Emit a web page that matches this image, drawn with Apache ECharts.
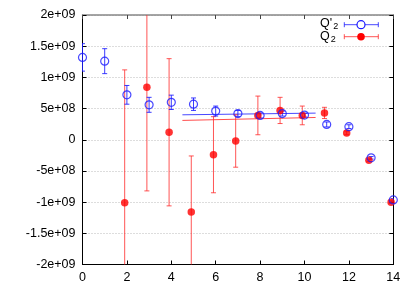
<!DOCTYPE html>
<html>
<head>
<meta charset="utf-8">
<script src="https://cdn.jsdelivr.net/npm/echarts@6/dist/echarts.min.js"></script>
<style>html,body{margin:0;padding:0;background:#fff;}#c{width:415px;height:291px;}</style>
</head>
<body>
<div id="c"></div>
<script>
// Q'2 (open blue circles)
var qpX = [0, 1, 2, 3, 4, 5, 6, 7, 8, 9, 10, 11, 12, 13, 14];
var qpY = [1.32e9, 1.26e9, 0.72e9, 0.56e9, 0.60e9, 0.57e9, 0.46e9, 0.42e9, 0.39e9, 0.42e9, 0.395e9, 0.245e9, 0.21e9, -0.29e9, -0.965e9];
var qpErr = [0.22e9, 0.20e9, 0.15e9, 0.12e9, 0.115e9, 0.10e9, 0.08e9, 0.05e9, 0.04e9, 0.04e9, 0.03e9, 0.04e9, 0.03e9, 0.02e9, 0.02e9];
// Q2 (filled red circles)
var q2X = [1.9, 2.9, 3.9, 4.9, 5.9, 6.9, 7.9, 8.9, 9.9, 10.9, 11.9, 12.9, 13.9];
var q2Y = [-1.01e9, 0.84e9, 0.12e9, -1.16e9, -0.24e9, -0.02e9, 0.39e9, 0.47e9, 0.39e9, 0.43e9, 0.11e9, -0.33e9, -1.0e9];
var q2Err = [2.13e9, 1.66e9, 1.18e9, 0.90e9, 0.61e9, 0.42e9, 0.31e9, 0.21e9, 0.15e9, 0.09e9, 0.03e9, 0.02e9, 0.02e9];
// fit lines
var fitX = [4.5, 10.5];
var qpFitY = [0.40e9, 0.427e9];
var q2FitY = [0.31e9, 0.357e9];
// ticks
var xTicks = [0, 2, 4, 6, 8, 10, 12, 14];
var yTickValues = [-2e9, -1.5e9, -1e9, -5e8, 0, 5e8, 1e9, 1.5e9, 2e9];
var yTickLabels = ['-2e+09', '-1.5e+09', '-1e+09', '-5e+08', '0', '5e+08', '1e+09', '1.5e+09', '2e+09'];
var legendNames = ["Q'", 'Q'];

var BLUE = '#1a1aff', RED = '#ff0000';
var FONT = 'Liberation Sans, Arial, sans-serif';

function zip(xs, ys, es) {
  return xs.map(function (x, i) { return es ? [x, ys[i], es[i]] : [x, ys[i]]; });
}
function errRender(color, opacity) {
  return function (params, api) {
    var x = api.value(0), y = api.value(1), e = api.value(2);
    var top = api.coord([x, y + e]);
    var bot = api.coord([x, y - e]);
    var w = 2.5;
    var st = { stroke: color, lineWidth: 1, opacity: opacity };
    return {
      type: 'group',
      children: [
        { type: 'line', shape: { x1: top[0], y1: top[1], x2: bot[0], y2: bot[1] }, style: st },
        { type: 'line', shape: { x1: top[0] - w, y1: top[1], x2: top[0] + w, y2: top[1] }, style: st },
        { type: 'line', shape: { x1: bot[0] - w, y1: bot[1], x2: bot[0] + w, y2: bot[1] }, style: st }
      ]
    };
  };
}

var chart = echarts.init(document.getElementById('c'), null, { renderer: 'canvas' });
var axisFont = { color: '#000', fontFamily: FONT, fontSize: 12.5 };

var option = {
  animation: false,
  backgroundColor: '#fff',
  grid: { left: 82.5, right: 21.7, top: 15, bottom: 26.5, containLabel: false },
  xAxis: [
    {
      type: 'value', min: 0, max: 14, interval: 2, position: 'bottom',
      axisLine: { show: true, onZero: false, lineStyle: { color: '#000', width: 1 } },
      axisTick: { show: true, inside: true, length: 4, lineStyle: { color: '#000' } },
      axisLabel: Object.assign({ margin: 7, formatter: function (v) { return xTicks.indexOf(v) >= 0 ? String(v) : ''; } }, axisFont),
      splitLine: { show: false }
    },
    {
      type: 'value', min: 0, max: 14, interval: 2, position: 'top',
      axisLine: { show: true, onZero: false, lineStyle: { color: '#888', width: 1.5 } },
      axisTick: { show: true, inside: true, length: 4, lineStyle: { color: '#444' } },
      axisLabel: { show: false },
      splitLine: { show: false }
    }
  ],
  yAxis: [
    {
      type: 'value', min: -2e9, max: 2e9, interval: 5e8, position: 'left',
      axisLine: { show: true, onZero: false, lineStyle: { color: '#000', width: 1 } },
      axisTick: { show: true, inside: true, length: 4, lineStyle: { color: '#000' } },
      axisLabel: Object.assign({ margin: 7, formatter: function (v) {
        for (var i = 0; i < yTickValues.length; i++) { if (Math.abs(yTickValues[i] - v) < 1) return yTickLabels[i]; }
        return '';
      } }, axisFont),
      splitLine: { show: true, lineStyle: { color: '#bbbbbb', type: [1, 2], width: 1 } }
    },
    {
      type: 'value', min: -2e9, max: 2e9, interval: 5e8, position: 'right',
      axisLine: { show: true, onZero: false, lineStyle: { color: '#000', width: 1 } },
      axisTick: { show: true, inside: true, length: 4, lineStyle: { color: '#000' } },
      axisLabel: { show: false },
      splitLine: { show: false }
    }
  ],
  series: [
    {
      type: 'line', data: zip(fitX, qpFitY), symbol: 'none',
      lineStyle: { color: BLUE, width: 1, opacity: 0.8 }, z: 2
    },
    {
      type: 'line', data: zip(fitX, q2FitY), symbol: 'none',
      lineStyle: { color: '#ff2020', width: 1, opacity: 0.8 }, z: 2
    },
    {
      type: 'custom', clip: true, data: zip(q2X, q2Y, q2Err),
      renderItem: errRender('#ff2a2a', 0.8), z: 3
    },
    {
      type: 'custom', clip: true, data: zip(qpX, qpY, qpErr),
      renderItem: errRender(BLUE, 0.85), z: 3
    },
    {
      type: 'scatter', data: zip(q2X, q2Y), symbol: 'circle', symbolSize: 7.5,
      itemStyle: { color: RED }, z: 4
    },
    {
      type: 'scatter', data: zip(qpX, qpY), symbol: 'circle', symbolSize: 8,
      itemStyle: { color: 'rgba(255,255,255,0)', borderColor: BLUE, borderWidth: 1.2 }, z: 5
    }
  ],
  graphic: [
    // legend row 1 : Q'2
    { type: 'text', x: 320, y: 23.4, style: { text: legendNames[0], font: '12.5px ' + FONT, fill: '#000', verticalAlign: 'middle' }, z: 10 },
    { type: 'text', x: 333.3, y: 27, style: { text: '2', font: '9px ' + FONT, fill: '#000', verticalAlign: 'middle' }, z: 10 },
    { type: 'line', shape: { x1: 344.3, y1: 24.7, x2: 378.3, y2: 24.7 }, style: { stroke: BLUE, lineWidth: 1, opacity: 0.8 }, z: 10 },
    { type: 'line', shape: { x1: 344.3, y1: 22.2, x2: 344.3, y2: 27.2 }, style: { stroke: BLUE, lineWidth: 1, opacity: 0.8 }, z: 10 },
    { type: 'line', shape: { x1: 378.3, y1: 22.2, x2: 378.3, y2: 27.2 }, style: { stroke: BLUE, lineWidth: 1, opacity: 0.8 }, z: 10 },
    { type: 'circle', shape: { cx: 361, cy: 24.7, r: 4 }, style: { fill: '#fff', stroke: BLUE, lineWidth: 1.2 }, z: 11 },
    // legend row 2 : Q2
    { type: 'text', x: 320, y: 36.4, style: { text: legendNames[1], font: '12.5px ' + FONT, fill: '#000', verticalAlign: 'middle' }, z: 10 },
    { type: 'text', x: 330.8, y: 39.8, style: { text: '2', font: '9px ' + FONT, fill: '#000', verticalAlign: 'middle' }, z: 10 },
    { type: 'line', shape: { x1: 344.3, y1: 36.7, x2: 378.3, y2: 36.7 }, style: { stroke: '#ff2a2a', lineWidth: 1, opacity: 0.8 }, z: 10 },
    { type: 'line', shape: { x1: 344.3, y1: 34.2, x2: 344.3, y2: 39.2 }, style: { stroke: '#ff2a2a', lineWidth: 1, opacity: 0.8 }, z: 10 },
    { type: 'line', shape: { x1: 378.3, y1: 34.2, x2: 378.3, y2: 39.2 }, style: { stroke: '#ff2a2a', lineWidth: 1, opacity: 0.8 }, z: 10 },
    { type: 'circle', shape: { cx: 361, cy: 36.7, r: 3.8 }, style: { fill: RED }, z: 11 }
  ]
};
chart.setOption(option);
</script>
</body>
</html>
